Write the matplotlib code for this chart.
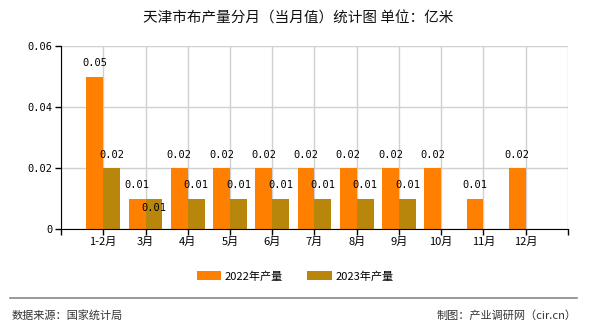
import matplotlib
matplotlib.use("Agg")
import matplotlib.pyplot as plt
import numpy as np

plt.rcParams["font.family"] = ["Noto Sans CJK SC", "DejaVu Sans"]

# ---------------------------------------------------------------------------
# Data
# ---------------------------------------------------------------------------
months = ["1-2月", "3月", "4月", "5月", "6月", "7月", "8月", "9月", "10月", "11月", "12月"]
output_2022 = [0.05, 0.01, 0.02, 0.02, 0.02, 0.02, 0.02, 0.02, 0.02, 0.01, 0.02]
output_2023 = [0.02, 0.01, 0.01, 0.01, 0.01, 0.01, 0.01, 0.01, None, None, None]
y_ticks = [0, 0.02, 0.04, 0.06]
y_tick_labels = ["0", "0.02", "0.04", "0.06"]

title = "天津市布产量分月（当月值）统计图 单位：亿米"
series_names = ["2022年产量", "2023年产量"]
source_text = "数据来源：国家统计局"
credit_text = "制图：产业调研网（cir.cn）"

color_2022 = "#FF8000"
color_2023 = "#B8860B"
mono = ["DejaVu Sans Mono"]

fig = plt.figure(figsize=(5.9, 3.3), dpi=100)
ax = fig.add_axes([0.1034, 0.306, 0.8593, 0.5546])

x = np.arange(len(months))
bar_w = 0.4

v22 = np.array(output_2022, dtype=float)
v23 = np.array([np.nan if v is None else v for v in output_2023], dtype=float)

b1 = ax.bar(x - bar_w / 2, v22, width=bar_w, color=color_2022, zorder=3, label=series_names[0])
b2 = ax.bar(x + bar_w / 2, np.nan_to_num(v23), width=bar_w, color=color_2023, zorder=3,
            label=series_names[1])

# value labels above the bars
for xi, v in zip(x - bar_w / 2, v22):
    ax.annotate(f"{v:.2f}", (xi, v), xytext=(0, 6), textcoords="offset points",
                ha="center", va="bottom", fontsize=7.5, family=mono, color="black", zorder=4)
for xi, v, other in zip(x + bar_w / 2, v23, v22):
    if np.isnan(v):
        continue
    # same height as the neighbouring label -> the label drops into the bar
    dy, va = ((-3, "top") if v == other else (6, "bottom"))
    ax.annotate(f"{v:.2f}", (xi, v), xytext=(0, dy), textcoords="offset points",
                ha="center", va=va, fontsize=7.5, family=mono, color="black", zorder=4)

ax.set_xlim(-1, len(months))
ax.set_ylim(0, 0.06)

ax.set_xticks(x)
ax.set_xticklabels(months, fontsize=8)
ax.set_xticks(np.arange(-1, len(months) + 1), minor=True)
ax.set_yticks(y_ticks)
ax.set_yticklabels(y_tick_labels, fontsize=7.5, family=mono)

ax.tick_params(axis="x", which="both", length=4, width=1, color="black", pad=2)
ax.tick_params(axis="y", length=4, width=1, color="black", pad=2)

# grid
ax.grid(axis="y", color="#D0D0D0", linewidth=1, zorder=0)
for gx in np.arange(-1, len(months) + 1):
    ax.axvline(gx, color="#D0D0D0", linewidth=1, zorder=0)

ax.spines["top"].set_visible(False)
ax.spines["right"].set_visible(False)
ax.spines["left"].set_color("black")
ax.spines["bottom"].set_color("black")
ax.spines["left"].set_zorder(5)
ax.spines["bottom"].set_zorder(5)

fig.text(0.505, 0.945, title, ha="center", va="center", fontsize=10.5, color="#111111")

leg = fig.legend(handles=[b1, b2], labels=series_names, loc="center",
                 bbox_to_anchor=(0.5, 0.163), ncol=2, frameon=False, fontsize=8,
                 handlelength=2.2, handleheight=0.9, columnspacing=2.2, handletextpad=0.3)

fig.add_artist(plt.Line2D([0.017, 0.978], [0.097, 0.097], color="#888888", linewidth=1.2,
                          transform=fig.transFigure))
fig.text(0.02, 0.043, source_text, ha="left", va="center", fontsize=8, color="#333333")
fig.text(0.978, 0.043, credit_text, ha="right", va="center", fontsize=8, color="#333333")

fig.savefig("out.png", dpi=100)
